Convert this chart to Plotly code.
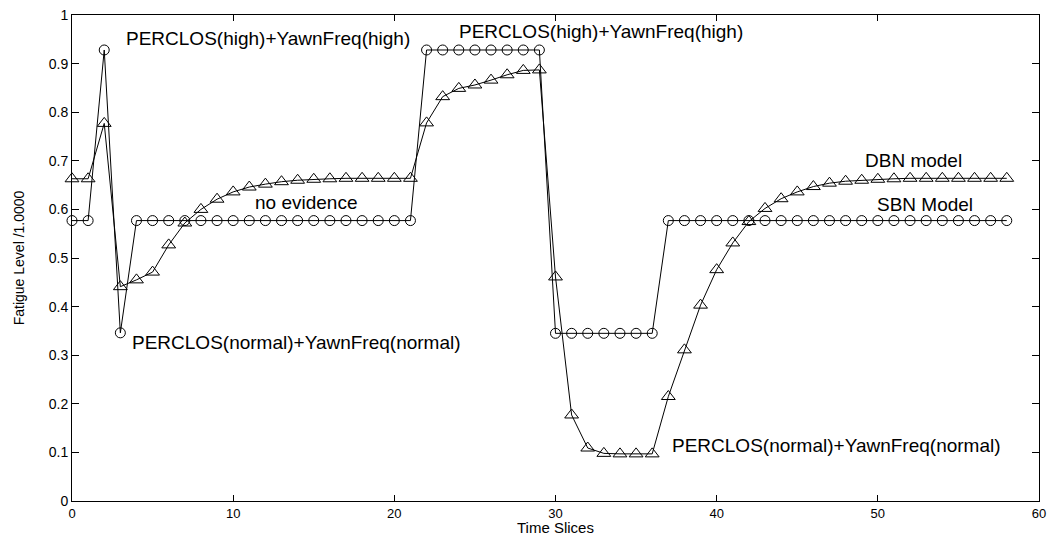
import plotly.graph_objects as go

time_slices = list(range(59))

sbn_values = [
    0.577, 0.577, 0.928, 0.346, 0.577, 0.577, 0.577, 0.577, 0.577, 0.577,
    0.577, 0.577, 0.577, 0.577, 0.577, 0.577, 0.577, 0.577, 0.577, 0.577,
    0.577, 0.577, 0.928, 0.928, 0.928, 0.928, 0.928, 0.928, 0.928, 0.928,
    0.345, 0.345, 0.345, 0.345, 0.345, 0.345, 0.345, 0.577, 0.577, 0.577,
    0.577, 0.577, 0.577, 0.577, 0.577, 0.577, 0.577, 0.577, 0.577, 0.577,
    0.577, 0.577, 0.577, 0.577, 0.577, 0.577, 0.577, 0.577, 0.577,
]

dbn_values = [
    0.663, 0.663, 0.777, 0.441, 0.455, 0.471, 0.527, 0.572, 0.600, 0.621,
    0.636, 0.646, 0.652, 0.657, 0.660, 0.662, 0.663, 0.664, 0.664, 0.664,
    0.664, 0.664, 0.778, 0.832, 0.849, 0.856, 0.866, 0.877, 0.886, 0.887,
    0.461, 0.177, 0.109, 0.098, 0.097, 0.097, 0.097, 0.215, 0.311, 0.403,
    0.476, 0.531, 0.575, 0.602, 0.622, 0.636, 0.647, 0.654, 0.658, 0.660,
    0.662, 0.663, 0.664, 0.664, 0.664, 0.664, 0.664, 0.664, 0.664,
]

y_tick_vals = [0, 0.1, 0.2, 0.3, 0.4, 0.5, 0.6, 0.7, 0.8, 0.9, 1]
y_tick_text = ["0", "0.1", "0.2", "0.3", "0.4", "0.5", "0.6", "0.7", "0.8", "0.9", "1"]
x_tick_vals = [0, 10, 20, 30, 40, 50, 60]
x_tick_text = ["0", "10", "20", "30", "40", "50", "60"]

labels_text = [
    "PERCLOS(high)+YawnFreq(high)",
    "PERCLOS(high)+YawnFreq(high)",
    "no evidence",
    "PERCLOS(normal)+YawnFreq(normal)",
    "PERCLOS(normal)+YawnFreq(normal)",
    "DBN model",
    "SBN Model",
]
labels_x = [3.2, 23.9, 11.2, 3.6, 37.1, 49.1, 49.8]
labels_y = [0.951, 0.967, 0.615, 0.327, 0.115, 0.700, 0.610]

x_title = "Time Slices"
y_title = "Fatigue Level /1.0000"

FONT = "Liberation Sans, Arial, Helvetica, sans-serif"

fig = go.Figure()
fig.add_trace(go.Scatter(
    x=time_slices, y=sbn_values, mode="lines+markers", name="SBN Model",
    line=dict(color="black", width=1),
    marker=dict(symbol="circle-open", size=10, color="black", line=dict(width=1)),
    cliponaxis=False,
))
fig.add_trace(go.Scatter(
    x=time_slices, y=dbn_values, mode="lines+markers", name="DBN model",
    line=dict(color="black", width=1),
    marker=dict(symbol="triangle-up-open", size=12, color="black", line=dict(width=1)),
    cliponaxis=False,
))

for t, xv, yv in zip(labels_text, labels_x, labels_y):
    fig.add_annotation(x=xv, y=yv, text=t, showarrow=False, xanchor="left",
                       yanchor="middle", font=dict(family=FONT, size=19, color="black"))

# x-axis title placed just below the tick labels, as in the reference
fig.add_annotation(x=0.5, y=0, xref="paper", yref="paper", text=x_title,
                   showarrow=False, xanchor="center", yanchor="middle", yshift=-26,
                   borderpad=0, font=dict(family=FONT, size=15, color="black"))

axis_common = dict(
    showgrid=False, zeroline=False, showline=True, linecolor="black", linewidth=1,
    mirror="ticks", ticks="inside", tickcolor="black",
)

fig.update_xaxes(
    range=[0, 60], tickvals=x_tick_vals, ticktext=x_tick_text, ticklen=6,
    tickfont=dict(family=FONT, size=13, color="black"),
    **axis_common,
)
fig.update_yaxes(
    range=[0, 1], tickvals=y_tick_vals, ticktext=y_tick_text, ticklen=7,
    tickfont=dict(family=FONT, size=14, color="black"),
    title=dict(text=y_title, font=dict(family=FONT, size=14, color="black"), standoff=20),
    **axis_common,
)

fig.update_layout(
    width=1050, height=536,
    margin=dict(l=72, r=11, t=15, b=35, autoexpand=False),
    paper_bgcolor="white", plot_bgcolor="white",
    showlegend=False,
    font=dict(family=FONT, color="black"),
)

fig.write_html("out.html")
